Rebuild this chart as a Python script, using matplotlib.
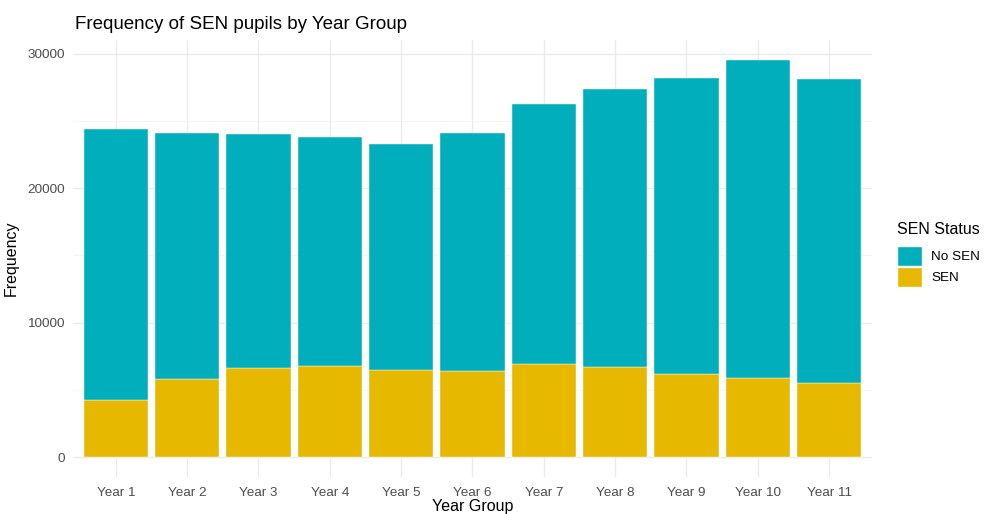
import numpy as np
import matplotlib; matplotlib.use("Agg")
import matplotlib.pyplot as plt
from matplotlib.patches import Patch
from matplotlib.ticker import MultipleLocator

plt.rcParams['font.family'] = ['Liberation Sans', 'DejaVu Sans']

# ─── Data ────────────────────────────────────────────────────────────────────
years   = ["Year 1", "Year 2", "Year 3", "Year 4", "Year 5", "Year 6",
           "Year 7", "Year 8", "Year 9", "Year 10", "Year 11"]
sen     = [4240, 5780, 6600, 6790, 6450, 6420, 6920, 6670, 6200, 5880, 5480]
total   = [24430, 24080, 24060, 23830, 23310, 24080, 26290, 27360, 28180, 29540, 28100]
no_sen  = [t - s for t, s in zip(total, sen)]

c_nosen = "#00AFBB"
c_sen   = "#E7B800"

fig = plt.figure(figsize=(9.9, 5.14), dpi=100)
ax  = fig.add_axes([0.0737, 0.072, 0.807, 0.850])

x = np.arange(1, len(years) + 1)
ax.bar(x, sen, width=0.9, color=c_sen, edgecolor="white", linewidth=0.3, zorder=3)
ax.bar(x, no_sen, width=0.9, bottom=sen, color=c_nosen, edgecolor="white",
       linewidth=0.3, zorder=3)

ymax = max(total)
ax.set_xlim(0.4, len(years) + 0.6)
ax.set_ylim(-0.05 * ymax, 1.05 * ymax)
ax.set_xticks(x)
ax.set_xticklabels(years)
ax.yaxis.set_major_locator(MultipleLocator(10000))
ax.yaxis.set_minor_locator(MultipleLocator(5000))

ax.grid(which="major", color="#EBEBEB", linewidth=1.0, zorder=0)
ax.grid(which="minor", axis="y", color="#F4F4F4", linewidth=0.6, zorder=0)
for s in ax.spines.values():
    s.set_visible(False)
ax.tick_params(which="both", length=0, labelsize=9.7, colors="#4D4D4D", pad=6)
ax.tick_params(axis="x", pad=7)

ax.set_xlabel("Year Group", fontsize=11.5, labelpad=0)
ax.set_ylabel("Frequency", fontsize=11.5, labelpad=6)
ax.set_title("Frequency of SEN pupils by Year Group", fontsize=13.5, loc="left",
             x=0.002, pad=8)

handles = [Patch(facecolor=c_nosen, edgecolor="white"),
           Patch(facecolor=c_sen, edgecolor="white")]
leg = fig.legend(handles, ["No SEN", "SEN"], title="SEN Status",
                 loc="upper left", bbox_to_anchor=(0.906, 0.569), frameon=False,
                 fontsize=9.7, title_fontsize=11.5, handlelength=1.85,
                 handleheight=1.85, handletextpad=0.7, labelspacing=0.12,
                 borderaxespad=0, borderpad=0)
leg._legend_box.align = "left"
leg._legend_box.sep = 7

fig.savefig("out.png", dpi=100)
plt.close()
